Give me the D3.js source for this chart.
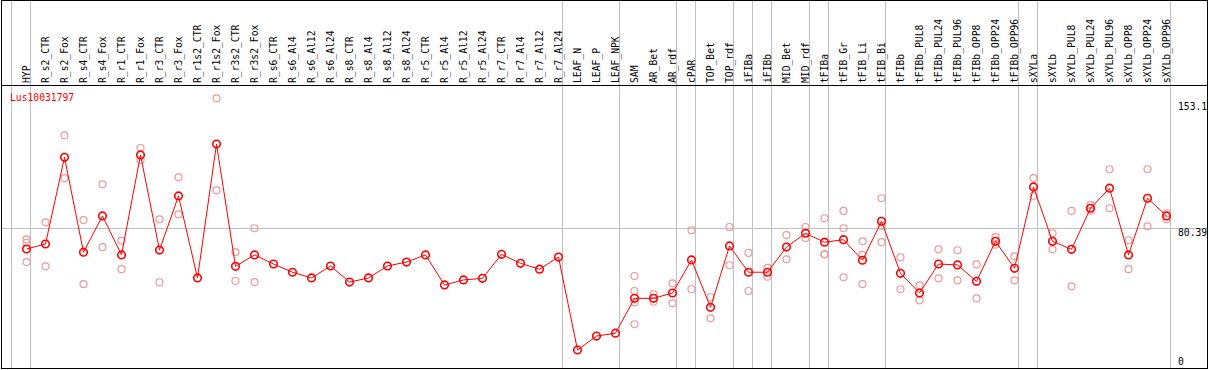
<!DOCTYPE html>
<html lang="en">
    <head>
        <meta charset="utf-8">
        <title>Lus10031797</title>
        <script src="https://d3js.org/d3.v7.min.js"></script>
        <style>
            body { margin: 0; background: #fff; }
            text { font-family: "DejaVu Sans Mono", monospace; font-size: 9.7px; }
        </style>
    </head>
    <body>
        <div id="chart"></div>
        <script>
            var gene = "Lus10031797";

            var samples = ["HYP", "R_s2_CTR", "R_s2_Fox", "R_s4_CTR", "R_s4_Fox", "R_r1_CTR", "R_r1_Fox",
                "R_r3_CTR", "R_r3_Fox", "R_r1s2_CTR", "R_r1s2_Fox", "R_r3s2_CTR", "R_r3s2_Fox",
                "R_s6_CTR", "R_s6_Al4", "R_s6_Al12", "R_s6_Al24", "R_s8_CTR", "R_s8_Al4", "R_s8_Al12",
                "R_s8_Al24", "R_r5_CTR", "R_r5_Al4", "R_r5_Al12", "R_r5_Al24", "R_r7_CTR", "R_r7_Al4",
                "R_r7_Al12", "R_r7_Al24", "LEAF_N", "LEAF_P", "LEAF_NPK", "SAM", "AR_Bet", "AR_rdf",
                "cPAR", "TOP_Bet", "TOP_rdf", "iFIBa", "iFIBb", "MID_Bet", "MID_rdf", "tFIBa",
                "tFIB_Gr", "tFIB_Li", "tFIB_Bi", "tFIBb", "tFIBb_PUL8", "tFIBb_PUL24", "tFIBb_PUL96",
                "tFIBb_OPP8", "tFIBb_OPP24", "tFIBb_OPP96", "sXYLa", "sXYLb", "sXYLb_PUL8",
                "sXYLb_PUL24", "sXYLb_PUL96", "sXYLb_OPP8", "sXYLb_OPP24", "sXYLb_OPP96"];

            // number of samples in each tissue group (separated by grey lines)
            var groupSizes = [1, 28, 3, 3, 1, 2, 1, 1, 2, 1, 3, 7, 1, 7];

            var means = [68.8, 71.6, 120.1, 67.0, 87.3, 65.5, 121.4, 68.2, 98.5, 52.6, 127.5, 59.1, 65.5,
                60.4, 55.8, 52.6, 59.3, 50.3, 52.6, 59.3, 61.5, 65.5, 48.7, 51.5, 52.4, 65.8, 60.8,
                57.5, 64.3, 12.3, 20.1, 21.7, 41.2, 41.2, 44.2, 62.7, 36.2, 70.5, 55.8, 55.8, 69.9,
                77.6, 72.6, 74.0, 62.5, 84.3, 55.2, 44.2, 60.4, 59.9, 50.7, 73.1, 58.0, 103.5, 73.1,
                68.6, 91.6, 102.8, 65.5, 97.2, 87.3];

            var replicates = [[74.2, 72.3, 61.5], [83.7, 59.1], [132.4, 108.4], [85.0, 49.1], [105.0, 69.8],
                [73.5, 57.5], [125.3, 118.6], [85.4, 50.2], [108.9, 88.2], [], [153.1, 101.6],
                [67.1, 50.9], [80.4, 50.3], [], [], [], [], [], [], [], [], [], [], [], [], [], [], [],
                [], [], [], [], [53.7, 45.3, 39.0, 26.7], [43.5, 39.3], [49.6, 38.4], [79.3, 46.3],
                [41.8, 30.0], [81.1, 59.7], [66.6, 45.3], [58.3, 53.3], [76.6, 63.0], [81.1, 75.0],
                [86.0, 65.8, 65.8], [90.1, 80.4, 53.0], [73.1, 65.5, 49.1], [97.2, 81.8, 72.6],
                [64.2, 46.3], [48.5, 40.1], [68.6, 52.4], [68.1, 51.3], [60.2, 41.2], [75.4, 71.2],
                [64.7, 51.3], [108.5, 98.6], [77.6, 68.6], [90.1, 47.9], [93.4, 90.2], [113.4, 91.6],
                [73.7, 57.5], [113.4, 81.5], [88.8, 85.4]];

            var yMax = 153.1, yRef = 80.39;

            var width = 1209, height = 370;

            var svg = d3.select("#chart")
                        .append("svg")
                        .attr("width", width)
                        .attr("height", height);

            var x = d3.scaleBand()
                      .domain(samples)
                      .range([11, 1170]);

            var y = d3.scaleLinear()
                      .domain([0, yMax])
                      .range([372, 98.3]);

            // group separator lines
            var bounds = [0];
            groupSizes.forEach(function(n) { bounds.push(bounds[bounds.length - 1] + n); });
            svg.selectAll(".sep")
               .data(bounds).enter()
               .append("line")
               .attr("x1", function(k) { return 11 + k * x.bandwidth() + 0.5; })
               .attr("x2", function(k) { return 11 + k * x.bandwidth() + 0.5; })
               .attr("y1", 0).attr("y2", 368)
               .style("stroke", "#c0c0c0");

            // reference line
            svg.append("line")
               .attr("x1", 1).attr("x2", 1208)
               .attr("y1", Math.round(y(yRef)) + 0.5).attr("y2", Math.round(y(yRef)) + 0.5)
               .style("stroke", "#c0c0c0");

            // frame
            svg.append("rect")
               .attr("x", 1.5).attr("y", 0.5)
               .attr("width", 1206).attr("height", 368)
               .style("fill", "none").style("stroke", "black");
            svg.append("line")
               .attr("x1", 1).attr("x2", 1208).attr("y1", 85.5).attr("y2", 85.5)
               .style("stroke", "black");

            // column labels
            svg.selectAll(".lab")
               .data(samples).enter()
               .append("text")
               .attr("transform", function(d) { return "translate(" + (x(d) + 18.5) + ",83) rotate(-90)"; })
               .text(function(d) { return d; })
               .style("fill", "black");

            var px = function(i) { return x(samples[i]) + 15.5; };

            // individual replicates
            var reps = [];
            replicates.forEach(function(r, i) { r.forEach(function(v) { reps.push([i, v]); }); });
            svg.selectAll(".rep")
               .data(reps).enter()
               .append("circle")
               .attr("cx", function(d) { return px(d[0]); })
               .attr("cy", function(d) { return y(d[1]); })
               .attr("r", 3.5)
               .style("fill", "none")
               .style("stroke", "#ee9999")
               .style("stroke-width", 1.2);

            // mean line
            svg.append("path")
               .datum(means)
               .attr("d", d3.line().x(function(d, i) { return px(i); }).y(function(d) { return y(d); }))
               .style("fill", "none")
               .style("stroke", "red")
               .style("stroke-width", 1);

            svg.selectAll(".mean")
               .data(means).enter()
               .append("circle")
               .attr("cx", function(d, i) { return px(i); })
               .attr("cy", function(d) { return y(d); })
               .attr("r", 3.8)
               .style("fill", "none")
               .style("stroke", "red")
               .style("stroke-width", 1.6);

            svg.append("text")
               .attr("x", 10).attr("y", 101)
               .text(gene)
               .style("fill", "red");

            // right-hand scale labels
            var ticks = [[yMax, 110], [yRef, 236], [0, 365]];
            svg.selectAll(".tick")
               .data(ticks).enter()
               .append("text")
               .attr("x", 1178)
               .attr("y", function(d) { return d[1]; })
               .text(function(d) { return d[0]; })
               .style("fill", "black");
        </script>
    </body>
</html>
